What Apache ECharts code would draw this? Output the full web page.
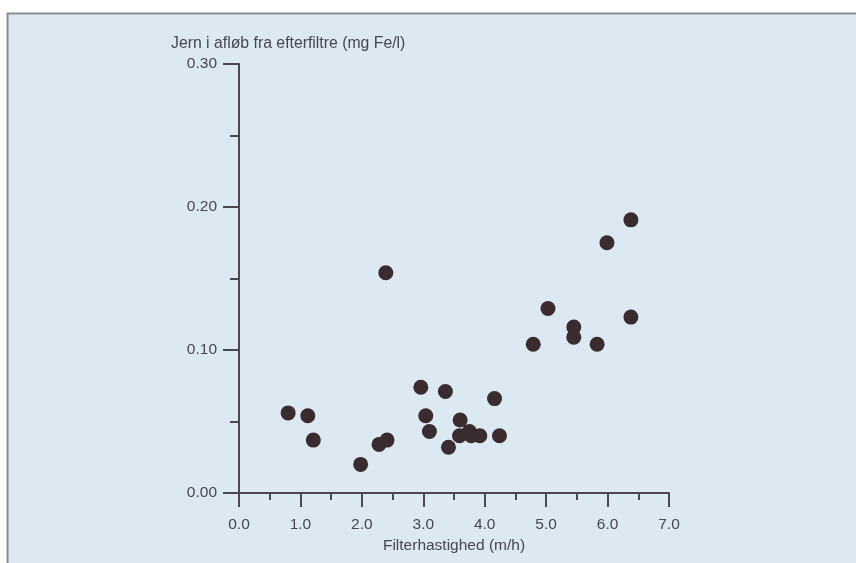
<!DOCTYPE html>
<html>
<head>
<meta charset="utf-8">
<title>Jern i afløb</title>
<script src="https://cdn.jsdelivr.net/npm/echarts@6/dist/echarts.min.js"></script>
<style>
  html, body { margin: 0; padding: 0; background: #fff; }
  #chart { width: 856px; height: 563px; }
</style>
</head>
<body>
<div id="chart"></div>
<script>
// filterhastighed (m/h)
const speed = [0.80, 1.12, 1.21, 1.98, 2.28, 2.41, 2.39, 2.96, 3.36, 3.04, 3.10, 3.41, 3.60, 3.59,
  3.75, 3.78, 3.92, 4.16, 4.24, 4.79, 5.03, 5.45, 5.45, 5.83, 5.99, 6.38, 6.38]
// jern i afløb (mg Fe/l)
const iron = [0.056, 0.054, 0.037, 0.020, 0.034, 0.037, 0.154, 0.074, 0.071, 0.054, 0.043, 0.032, 0.051, 0.040,
  0.043, 0.040, 0.040, 0.066, 0.040, 0.104, 0.129, 0.116, 0.109, 0.104, 0.175, 0.191, 0.123]

const yTitle = 'Jern i afløb fra efterfiltre (mg Fe/l)'
const xTitle = 'Filterhastighed (m/h)'

const axisColor = '#4a4850'
const textColor = '#47474f'
const font = '"Liberation Sans", Arial, sans-serif'
const fontSize = 15.5

const chart = echarts.init(document.getElementById('chart'))

chart.setOption({
  animation: false,
  textStyle: { fontFamily: font },
  graphic: [{
    type: 'rect',
    shape: { x: 7.5, y: 13.5, width: 860, height: 560 },
    style: { fill: '#dce8f2', stroke: '#8c8c90', lineWidth: 2 },
    z: -10
  }],
  title: {
    text: yTitle,
    left: 171,
    top: 36,
    padding: 0,
    textStyle: { fontSize: 15.8, fontWeight: 'normal', color: textColor, fontFamily: font }
  },
  grid: { left: 239, right: 187, top: 64, bottom: 70 },
  xAxis: {
    type: 'value',
    min: 0,
    max: 7,
    interval: 1,
    name: xTitle,
    nameLocation: 'middle',
    nameGap: 40,
    nameTextStyle: { fontSize: fontSize, color: textColor },
    axisLine: { lineStyle: { color: axisColor, width: 2 } },
    axisTick: { length: 14, lineStyle: { color: axisColor, width: 2 } },
    minorTick: { show: true, splitNumber: 2, length: 7, lineStyle: { color: axisColor, width: 2 } },
    splitLine: { show: false },
    axisLabel: {
      margin: 24,
      fontSize: fontSize,
      color: textColor,
      formatter: v => v.toFixed(1)
    }
  },
  yAxis: {
    type: 'value',
    min: 0,
    max: 0.3,
    interval: 0.1,
    axisLine: { show: true, lineStyle: { color: axisColor, width: 2 } },
    axisTick: { show: true, length: 16, lineStyle: { color: axisColor, width: 2 } },
    minorTick: { show: true, splitNumber: 2, length: 9, lineStyle: { color: axisColor, width: 2 } },
    splitLine: { show: false },
    axisLabel: {
      margin: 22,
      fontSize: fontSize,
      color: textColor,
      formatter: v => v.toFixed(2)
    }
  },
  series: [{
    type: 'scatter',
    symbolSize: 15,
    itemStyle: { color: '#3a2b2e', opacity: 1 },
    data: speed.map((s, i) => [s, iron[i]])
  }]
})
</script>
</body>
</html>
